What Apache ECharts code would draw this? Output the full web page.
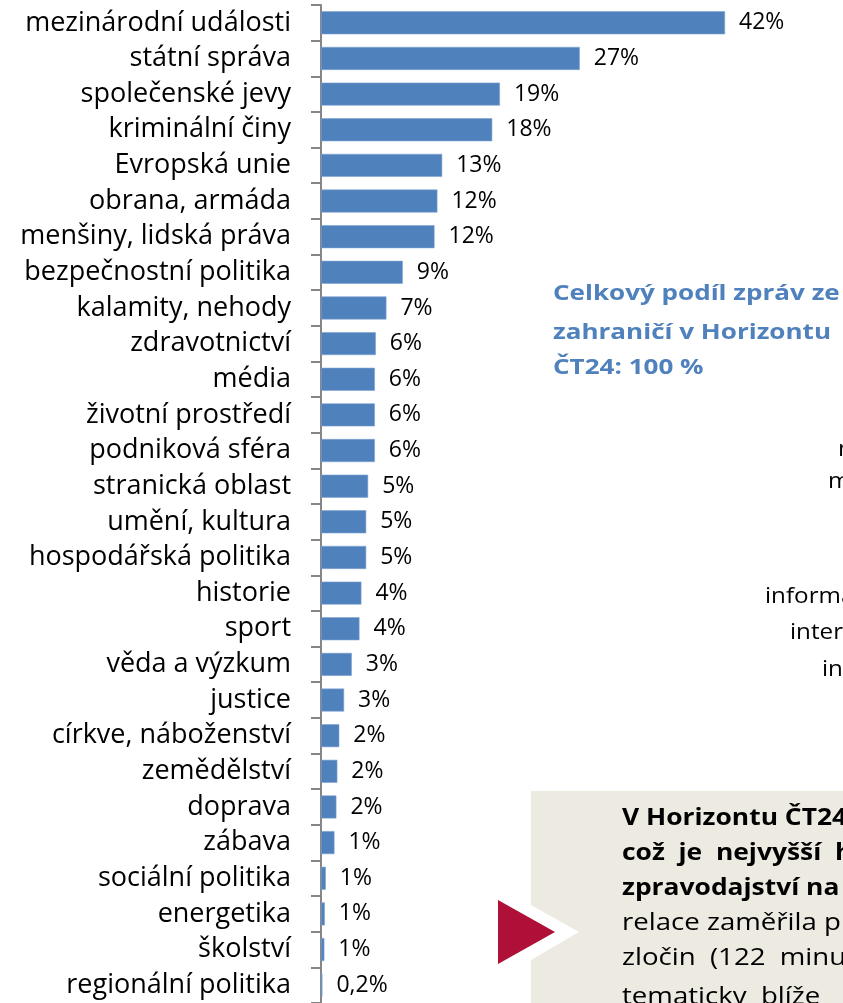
<!DOCTYPE html>
<html>
<head>
<meta charset="utf-8">
<script src="https://cdn.jsdelivr.net/npm/echarts@6/dist/echarts.min.js"></script>
<style>
  html, body { margin: 0; padding: 0; background: #fff; overflow: hidden; }
  #chart { width: 843px; height: 1003px; }
</style>
</head>
<body>
<div id="chart"></div>
<script>
// kategorie zpráv (shora dolů)
const categories = ['mezinárodní události', 'státní správa', 'společenské jevy', 'kriminální činy',
  'Evropská unie', 'obrana, armáda', 'menšiny, lidská práva', 'bezpečnostní politika',
  'kalamity, nehody', 'zdravotnictví', 'média', 'životní prostředí', 'podniková sféra',
  'stranická oblast', 'umění, kultura', 'hospodářská politika', 'historie', 'sport',
  'věda a výzkum', 'justice', 'církve, náboženství', 'zemědělství', 'doprava', 'zábava',
  'sociální politika', 'energetika', 'školství', 'regionální politika']
// podíl v % (odečteno z délky pruhů)
const values = [42, 26.9, 18.6, 17.8, 12.6, 12.1, 11.8, 8.5, 6.8, 5.7, 5.6, 5.6, 5.6,
  4.9, 4.7, 4.7, 4.2, 4.0, 3.2, 2.4, 1.9, 1.7, 1.6, 1.4, 0.5, 0.4, 0.35, 0.15]
// popisky u pruhů
const valueLabels = ['42%', '27%', '19%', '18%', '13%', '12%', '12%', '9%', '7%', '6%', '6%',
  '6%', '6%', '5%', '5%', '5%', '4%', '4%', '3%', '3%', '2%', '2%', '2%', '1%', '1%', '1%',
  '1%', '0,2%']

const noteLines = ['Celkový podíl zpráv ze', 'zahraničí v Horizontu', 'ČT24: 100 %']
const boxLines = [
  {text: 'V Horizontu ČT24 tvořily zprávy', bold: true},
  {text: 'což  je  nejvyšší  hodnota', bold: true},
  {text: 'zpravodajství na ČT24', bold: true},
  {text: 'relace zaměřila především', bold: false},
  {text: 'zločin  (122  minut)', bold: false},
  {text: 'tematicky  blíže', bold: false}
]
const sideWords = [
  {text: 'na', x: 838, y: 450},
  {text: 'média', x: 828, y: 482},
  {text: 'informační', x: 765, y: 597},
  {text: 'internetové', x: 790, y: 633},
  {text: 'inzerce', x: 822, y: 670}
]

const chart = echarts.init(document.getElementById('chart'))

const FONT = 'Open Sans'
const graphics = [
  {type: 'rect', shape: {x: 531, y: 791, width: 400, height: 300}, style: {fill: '#edeae1'}, z: 1},
  {type: 'polygon', shape: {points: [[531, 905], [579, 932], [531, 960]]}, style: {fill: '#fff'}, z: 2},
  {type: 'polygon', shape: {points: [[498, 900], [555, 932], [498, 964]]}, style: {fill: '#ae1038'}, z: 3}
]
const noteY = [294, 333, 368]
noteLines.forEach((t, i) => {
  graphics.push({type: 'text', z: 5, x: 553, y: noteY[i], scaleX: 1.24,
    style: {text: t, x: 0, y: 0, verticalAlign: 'middle',
      fontFamily: FONT, fontSize: 21, fontWeight: 'bold', fill: '#4f81bd'}})
})
sideWords.forEach(w => {
  graphics.push({type: 'text', z: 5, x: w.x, y: w.y, scaleX: 1.1,
    style: {text: w.text, x: 0, y: 0, verticalAlign: 'middle',
      fontFamily: FONT, fontSize: 22, fill: '#000'}})
})
const boxY = [818, 853, 888, 923, 958, 997]
boxLines.forEach((l, i) => {
  graphics.push({type: 'text', z: 5, x: 622, y: boxY[i], scaleX: l.bold ? 1.1 : 1.15,
    style: {text: l.text, x: 0, y: 0, verticalAlign: 'middle',
      fontFamily: FONT, fontSize: 24, fontWeight: l.bold ? 'bold' : 'normal', fill: '#000'}})
})

const option = {
  animation: false,
  grid: {left: 321, top: 5, width: 481, height: 1000.7},
  xAxis: {type: 'value', min: 0, max: 50, show: false},
  yAxis: {
    type: 'category',
    inverse: true,
    data: categories,
    axisLine: {show: true, lineStyle: {color: '#868686', width: 2}},
    axisTick: {show: true, length: 10, lineStyle: {color: '#868686', width: 2}},
    axisLabel: {margin: 30, fontFamily: FONT, fontSize: 27, color: '#000'}
  },
  series: [{
    type: 'bar',
    data: values,
    barWidth: 23,
    itemStyle: {color: '#4f81bd', borderColor: '#7fa3d0', borderWidth: 0.6},
    label: {
      show: true,
      position: 'right',
      distance: 14,
      fontFamily: FONT,
      fontSize: 23,
      color: '#000',
      formatter: p => valueLabels[p.dataIndex]
    }
  }],
  graphic: graphics
}
chart.setOption(option)
</script>
</body>
</html>
